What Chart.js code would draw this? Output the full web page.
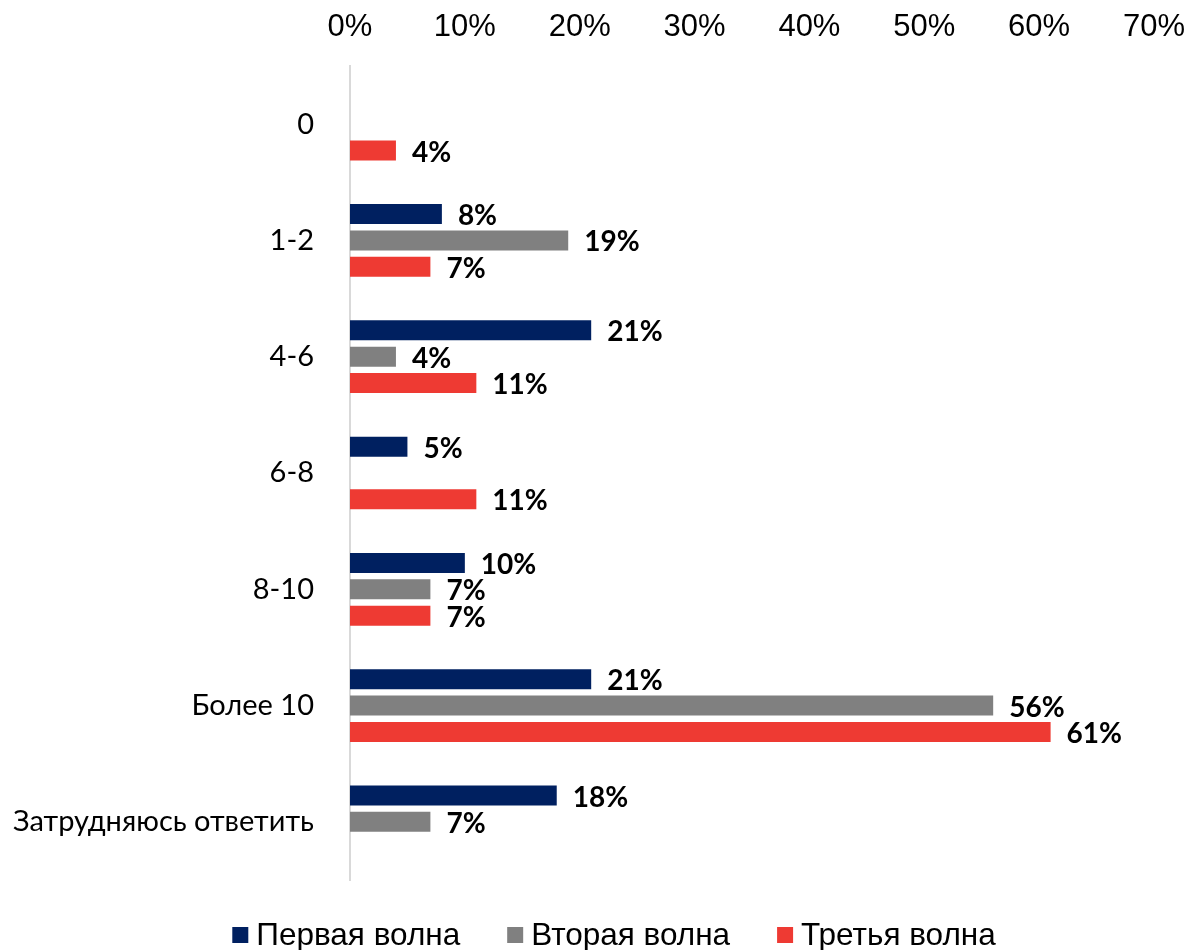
<!DOCTYPE html>
<html>
<head>
<meta charset="utf-8">
<script src="https://cdn.jsdelivr.net/npm/chart.js@4/dist/chart.umd.min.js"></script>
<style>
  html, body { margin: 0; padding: 0; background: #fff; }
  #wrap { width: 1197px; height: 950px; position: relative; }
</style>
</head>
<body>
<div id="wrap"><canvas id="c" width="1197" height="950"></canvas></div>
<script>
// Answer groups (vertical axis)
const categories = ['0', '1-2', '4-6', '6-8', '8-10', 'Более 10', 'Затрудняюсь ответить'];

// Shares of respondents, % (null = no answer in that wave)
const wave1 = [null, 8, 21, 5, 10, 21, 18];
const wave2 = [null, 19, 4, null, 7, 56, 7];
const wave3 = [4, 7, 11, 11, 7, 61, null];

const seriesNames = ['Первая волна', 'Вторая волна', 'Третья волна'];
const seriesColors = ['#002060', '#808080', '#EE3A33'];

// Horizontal axis ticks
const xTicks = [0, 10, 20, 30, 40, 50, 60, 70];

// Value labels at the end of each bar
const valueLabels = {
  id: 'valueLabels',
  afterDatasetsDraw(chart) {
    const ctx = chart.ctx;
    ctx.save();
    ctx.font = 'bold 28px Lato, "Open Sans", sans-serif';
    ctx.fillStyle = '#000';
    ctx.textAlign = 'left';
    ctx.textBaseline = 'middle';
    chart.data.datasets.forEach((ds, i) => {
      const meta = chart.getDatasetMeta(i);
      meta.data.forEach((bar, j) => {
        const v = ds.data[j];
        if (v === null || v === undefined) return;
        ctx.fillText(v + '%', bar.x + 16, bar.y + 2);
      });
    });
    ctx.restore();
  }
};

// Legend row under the plot: square swatch followed by series name
const bottomLegend = {
  id: 'bottomLegend',
  afterDraw(chart) {
    const ctx = chart.ctx;
    const box = 16, gap = 8, spacing = 47, cy = 935;
    ctx.save();
    ctx.font = '31.5px "Liberation Sans", Arial, sans-serif';
    ctx.textBaseline = 'middle';
    ctx.textAlign = 'left';
    const items = chart.data.datasets.map(ds => ({
      text: ds.label, color: ds.backgroundColor, w: ctx.measureText(ds.label).width
    }));
    const total = items.reduce((s, it) => s + box + gap + it.w, 0) + spacing * (items.length - 1);
    let x = 614 - total / 2;
    items.forEach(it => {
      ctx.fillStyle = it.color;
      ctx.fillRect(x, cy - box / 2, box, box);
      ctx.fillStyle = '#000';
      ctx.fillText(it.text, x + box + gap, cy + 1);
      x += box + gap + it.w + spacing;
    });
    ctx.restore();
  }
};

const xMin = xTicks[0], xMax = xTicks[xTicks.length - 1];

new Chart(document.getElementById('c'), {
  type: 'bar',
  data: {
    labels: categories,
    datasets: [wave1, wave2, wave3].map((d, i) => ({
      label: seriesNames[i],
      data: d,
      backgroundColor: seriesColors[i],
      borderWidth: 0,
      categoryPercentage: 0.68,
      barPercentage: 0.76
    }))
  },
  options: {
    indexAxis: 'y',
    responsive: false,
    animation: false,
    layout: { padding: { left: 0, right: 33, top: 0, bottom: 70 } },
    scales: {
      x: {
        position: 'top',
        min: xMin,
        max: xMax,
        afterBuildTicks(scale) { scale.ticks = xTicks.map(v => ({ value: v })); },
        grid: { display: false },
        border: { display: false },
        ticks: {
          color: '#000',
          padding: 12,
          font: { family: '"Liberation Sans", Arial, sans-serif', size: 31 },
          callback: v => v + '%'
        },
        afterFit(scale) { scale.height = 66; }
      },
      y: {
        grid: { display: false },
        border: { display: true, color: '#D9D9D9', width: 2 },
        ticks: {
          color: '#000',
          padding: 28,
          font: { family: 'Lato, "Open Sans", sans-serif', size: 29 }
        },
        afterFit(scale) { scale.width = 350; }
      }
    },
    plugins: {
      legend: { display: false },
      tooltip: { enabled: false }
    }
  },
  plugins: [valueLabels, bottomLegend]
});
</script>
</body>
</html>
